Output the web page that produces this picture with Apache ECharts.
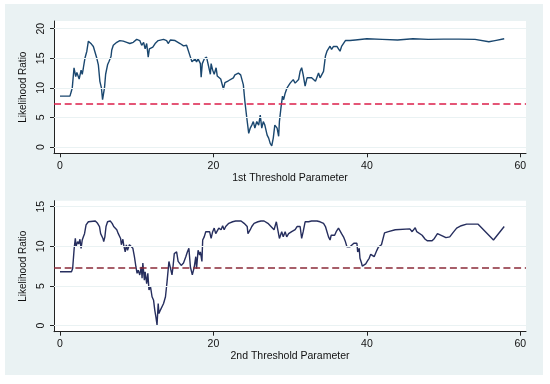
<!DOCTYPE html>
<html><head><meta charset="utf-8">
<script src="https://cdn.jsdelivr.net/npm/echarts@6/dist/echarts.min.js"></script>
<style>html,body{margin:0;padding:0;background:#fff}#c{width:550px;height:384px}</style>
</head><body><div id="c"></div>
<script>
// ---- Data ----
const xTicks = [0, 20, 40, 60];
const y1Ticks = [0, 5, 10, 15, 20];
const y2Ticks = [0, 5, 10, 15];
const critValue = 7.35;
const xTitle1 = '1st Threshold Parameter';
const xTitle2 = '2nd Threshold Parameter';
const yTitle = 'Likelihood Ratio';

const p1X = [0,1.3,1.5,1.6,1.83,2.05,2.2,2.4,2.5,2.75,2.9,3.05,3.25,3.5,3.7,3.8,4.1,4.35,4.55,4.8,5.0,5.2,5.4,5.55,5.8,5.95,6.2,6.4,6.65,6.75,6.95,7.4,7.8,8.25,8.7,9.1,9.55,10.0,10.4,10.65,10.9,11.1,11.3,11.5,11.65,11.9,12.1,12.4,12.8,13.5,13.9,14.1,14.4,15.0,15.65,16.1,16.5,16.7,17.0,17.2,17.4,17.6,17.8,18.0,18.3,18.4,18.55,18.8,19.1,19.3,19.6,19.7,19.9,20.1,20.35,20.5,20.75,20.95,21.1,21.3,21.5,21.7,21.95,22.2,22.6,22.8,23.25,23.55,23.7,23.9,24.1,24.35,24.6,24.8,25.0,25.2,25.4,25.65,25.9,26.1,26.3,26.5,26.7,27.0,27.2,27.4,27.6,27.8,28.0,28.3,28.5,28.6,28.8,29.0,29.15,29.35,29.6,29.8,30.0,30.2,30.4,30.65,30.9,31.1,31.3,31.5,31.7,31.95,32.2,32.4,32.8,33.3,33.5,33.7,33.9,34.1,34.35,34.6,34.8,35.2,35.4,35.65,35.9,36.1,36.3,36.5,36.7,37.2,37.8,38.5,38.7,40,42,44,46,48,50,52,54.1,55.9,56.7,57.9];
const p1Y = [8.6,8.6,9.5,10.0,13.4,11.9,12.6,12.3,11.5,13.0,12.3,13.4,15.0,16.2,17.9,18.0,17.4,17.0,16.7,15.0,13.9,11.1,10.0,8.0,10.0,12.3,13.9,14.5,15.3,16.4,17.2,17.7,18.0,17.9,17.7,17.5,17.7,18.2,18.0,17.2,17.7,16.6,17.5,15.2,16.6,16.3,16.9,17.5,18.0,18.2,18.0,17.5,18.1,18.0,17.5,17.1,17.2,17.5,15.2,14.4,14.6,14.9,14.4,14.9,14.1,11.8,14.1,14.9,15.2,14.9,12.3,14.1,13.0,12.3,13.4,12.0,12.3,11.5,11.8,9.8,10.9,10.6,11.2,11.3,11.7,12.2,12.5,12.2,12.2,10.5,7.7,4.9,2.3,3.2,3.7,4.3,3.2,4.3,3.7,5.4,3.2,4.3,3.7,2.0,1.5,0.6,0.2,1.5,3.7,3.2,1.8,4.3,6.6,8.6,8.0,9.1,10.0,10.3,10.8,10.5,11.4,10.8,11.1,11.4,12.8,13.4,12.2,10.3,11.7,11.8,11.7,11.1,10.9,12.5,11.7,11.7,12.8,15.4,16.2,17.05,16.5,17.0,16.8,17.0,16.6,16.2,17.0,18.0,18.0,18.1,18.3,18.3,18.2,18.1,18.3,18.2,18.25,18.25,18.2,17.8,18.0,18.3];

const p2X = [0,1.5,1.65,1.85,2.0,2.1,2.3,2.45,2.6,2.75,2.9,3.05,3.2,3.4,3.7,3.9,4.6,4.9,5.15,5.3,5.6,5.7,5.85,6.0,6.2,6.55,6.8,7.0,7.2,7.4,7.6,7.9,8.0,8.2,8.3,8.5,8.65,8.8,9.05,9.25,9.5,9.7,9.9,10.05,10.2,10.4,10.6,10.7,10.8,11.0,11.1,11.3,11.45,11.6,11.8,12.0,12.2,12.35,12.5,12.65,12.8,12.9,13.1,13.3,13.5,13.75,13.95,14.2,14.4,14.6,14.75,14.9,15.2,15.4,15.6,15.8,16.1,16.4,16.6,16.8,17.0,17.25,17.5,17.7,17.8,18.0,18.2,18.3,18.5,18.6,18.8,19.0,19.2,19.5,19.7,19.9,20.1,20.3,20.5,20.7,21.0,21.2,21.4,21.6,22.0,22.5,22.9,23.6,24.0,24.4,24.5,24.8,25.0,25.3,25.8,26.0,26.2,26.6,27.1,27.5,27.9,28.2,28.4,28.6,28.9,29.1,29.35,29.55,29.8,30.0,30.2,30.4,30.65,30.9,31.1,31.3,31.5,31.7,31.95,32.4,32.8,33.5,33.9,34.1,34.35,34.6,34.8,35.0,35.2,35.35,35.6,35.8,36.0,36.3,36.5,36.7,36.95,37.2,37.4,37.8,38.0,38.3,38.5,38.7,38.8,39.0,39.1,39.3,39.4,39.6,39.85,40.1,40.3,40.5,40.7,40.95,41.1,41.3,41.5,41.9,42.1,42.3,42.8,43.7,43.9,45.6,45.9,46.1,46.3,46.5,46.7,47.2,47.6,47.9,48.5,48.8,49.2,49.9,50.3,50.8,51.2,51.7,52.3,53.0,54.5,56.5,57.9];
const p2Y = [6.8,6.8,7.2,9.75,11.0,10.0,10.6,10.3,10.9,9.75,10.8,11.2,11.6,12.7,13.1,13.2,13.2,12.9,12.5,11.6,11.0,10.6,11.2,12.5,13.1,13.2,12.9,12.5,12.7,12.1,11.6,11.0,10.2,10.9,10.2,9.3,10.2,9.5,10.2,10.0,9.75,8.7,7.4,6.6,7.0,6.4,7.4,6.0,7.9,5.75,6.8,5.3,6.6,4.5,4.9,3.65,3.2,2.0,1.1,0.1,2.8,1.55,2.0,2.0,2.8,3.65,5.5,8.1,7.9,6.4,7.6,9.1,9.3,8.1,8.3,7.6,7.9,8.7,9.3,9.75,7.4,6.4,7.4,8.7,7.2,9.5,8.9,9.3,8.1,10.8,11.2,11.85,12.1,11.85,11.0,11.85,12.3,11.6,11.85,12.3,12.1,12.6,12.1,12.5,12.9,13.1,13.2,13.2,12.9,12.5,11.6,12.1,12.5,12.9,13.1,12.9,13.2,13.2,12.9,12.5,12.1,13.1,13.3,11.0,11.85,11.2,11.85,11.2,11.6,11.4,11.85,11.6,12.1,12.5,12.3,12.5,11.0,11.85,13.1,13.1,13.2,13.2,13.1,13.2,12.9,12.5,11.85,11.2,10.8,11.4,11.6,11.4,11.85,12.3,12.5,11.6,11.2,10.6,9.95,9.95,10.0,10.4,10.6,10.4,9.3,9.75,8.5,7.9,7.5,7.65,7.8,8.2,8.5,9.0,8.9,8.7,8.5,9.5,9.9,10.2,10.4,11.7,11.85,12.1,12.2,12.2,11.85,12.1,12.35,11.85,11.6,11.4,10.9,10.7,10.7,11.0,11.6,11.3,11.1,11.2,11.7,12.3,12.6,12.8,12.8,10.8,12.5];

// ---- Chart ----
const font = "'Liberation Sans', Arial, Helvetica, sans-serif";
const txt = '#111';
const axisCol = '#222';
const gridCol = '#EAF2F3';
function pairs(xs, ys) { return xs.map((x, i) => [x, ys[i]]); }

function mkX(gi, name, gap) {
  return {
    type: 'value', gridIndex: gi, min: -0.78, max: 60.74,
    name: name, nameLocation: 'middle', nameGap: gap,
    nameTextStyle: { fontFamily: font, fontSize: 10.5, color: txt },
    axisLine: { show: true, onZero: false, lineStyle: { color: axisCol, width: 1 } },
    axisTick: { show: true, customValues: xTicks, length: 4, lineStyle: { color: axisCol } },
    axisLabel: { customValues: xTicks, margin: 7, fontFamily: font, fontSize: 10.5, color: txt },
    splitLine: { show: false }
  };
}
function mkY(gi, min, max, ticks) {
  return {
    type: 'value', gridIndex: gi, min: min, max: max,
    name: yTitle, nameLocation: 'middle', nameGap: 18.5, nameRotate: 90,
    nameTextStyle: { fontFamily: font, fontSize: 10, color: txt },
    axisLine: { show: true, onZero: false, lineStyle: { color: axisCol, width: 1 } },
    axisTick: { show: true, customValues: ticks, length: 4, lineStyle: { color: axisCol } },
    axisLabel: { customValues: ticks, rotate: 90, margin: 7, fontFamily: font, fontSize: 10.5, color: txt },
    splitLine: { show: false }
  };
}
function gridLines(xi, ticks) {
  return {
    type: 'line', xAxisIndex: xi, yAxisIndex: xi, data: [], z: 1, silent: true,
    markLine: {
      silent: true, symbol: 'none', label: { show: false }, animation: false,
      lineStyle: { color: gridCol, type: 'solid', width: 1.2 },
      data: ticks.map(t => ({ yAxis: t }))
    }
  };
}
function mainLine(xi, xs, ys, col, refCol) {
  return {
    type: 'line', xAxisIndex: xi, yAxisIndex: xi, data: pairs(xs, ys), z: 3,
    showSymbol: false, symbol: 'none', animation: false,
    lineStyle: { color: col, width: 1.4 },
    markLine: {
      silent: true, symbol: 'none', label: { show: false }, animation: false,
      lineStyle: { color: refCol, type: [7, 3.7], width: 1.5 },
      data: [{ yAxis: critValue }]
    }
  };
}

const chart = echarts.init(document.getElementById('c'), null, { renderer: 'canvas' });
chart.setOption({
  animation: false,
  backgroundColor: '#fff',
  graphic: [{ type: 'rect', z: -100, silent: true, shape: { x: 5, y: 4, width: 538, height: 371 }, style: { fill: gridCol } }],
  grid: [
    { left: 54, top: 21, width: 472, height: 132.3, show: true, backgroundColor: '#fff', borderWidth: 0 },
    { left: 54, top: 200.7, width: 472, height: 131, show: true, backgroundColor: '#fff', borderWidth: 0 }
  ],
  xAxis: [mkX(0, xTitle1, 15.5), mkX(1, xTitle2, 16.5)],
  yAxis: [mkY(0, -1.07, 21.31, y1Ticks), mkY(1, -0.756, 15.756, y2Ticks)],
  series: [
    gridLines(0, y1Ticks),
    gridLines(1, y2Ticks),
    mainLine(0, p1X, p1Y, '#1A476F', '#DC1E4A'),
    mainLine(1, p2X, p2Y, '#262E5E', '#8A2A38')
  ]
});
</script>
</body></html>
